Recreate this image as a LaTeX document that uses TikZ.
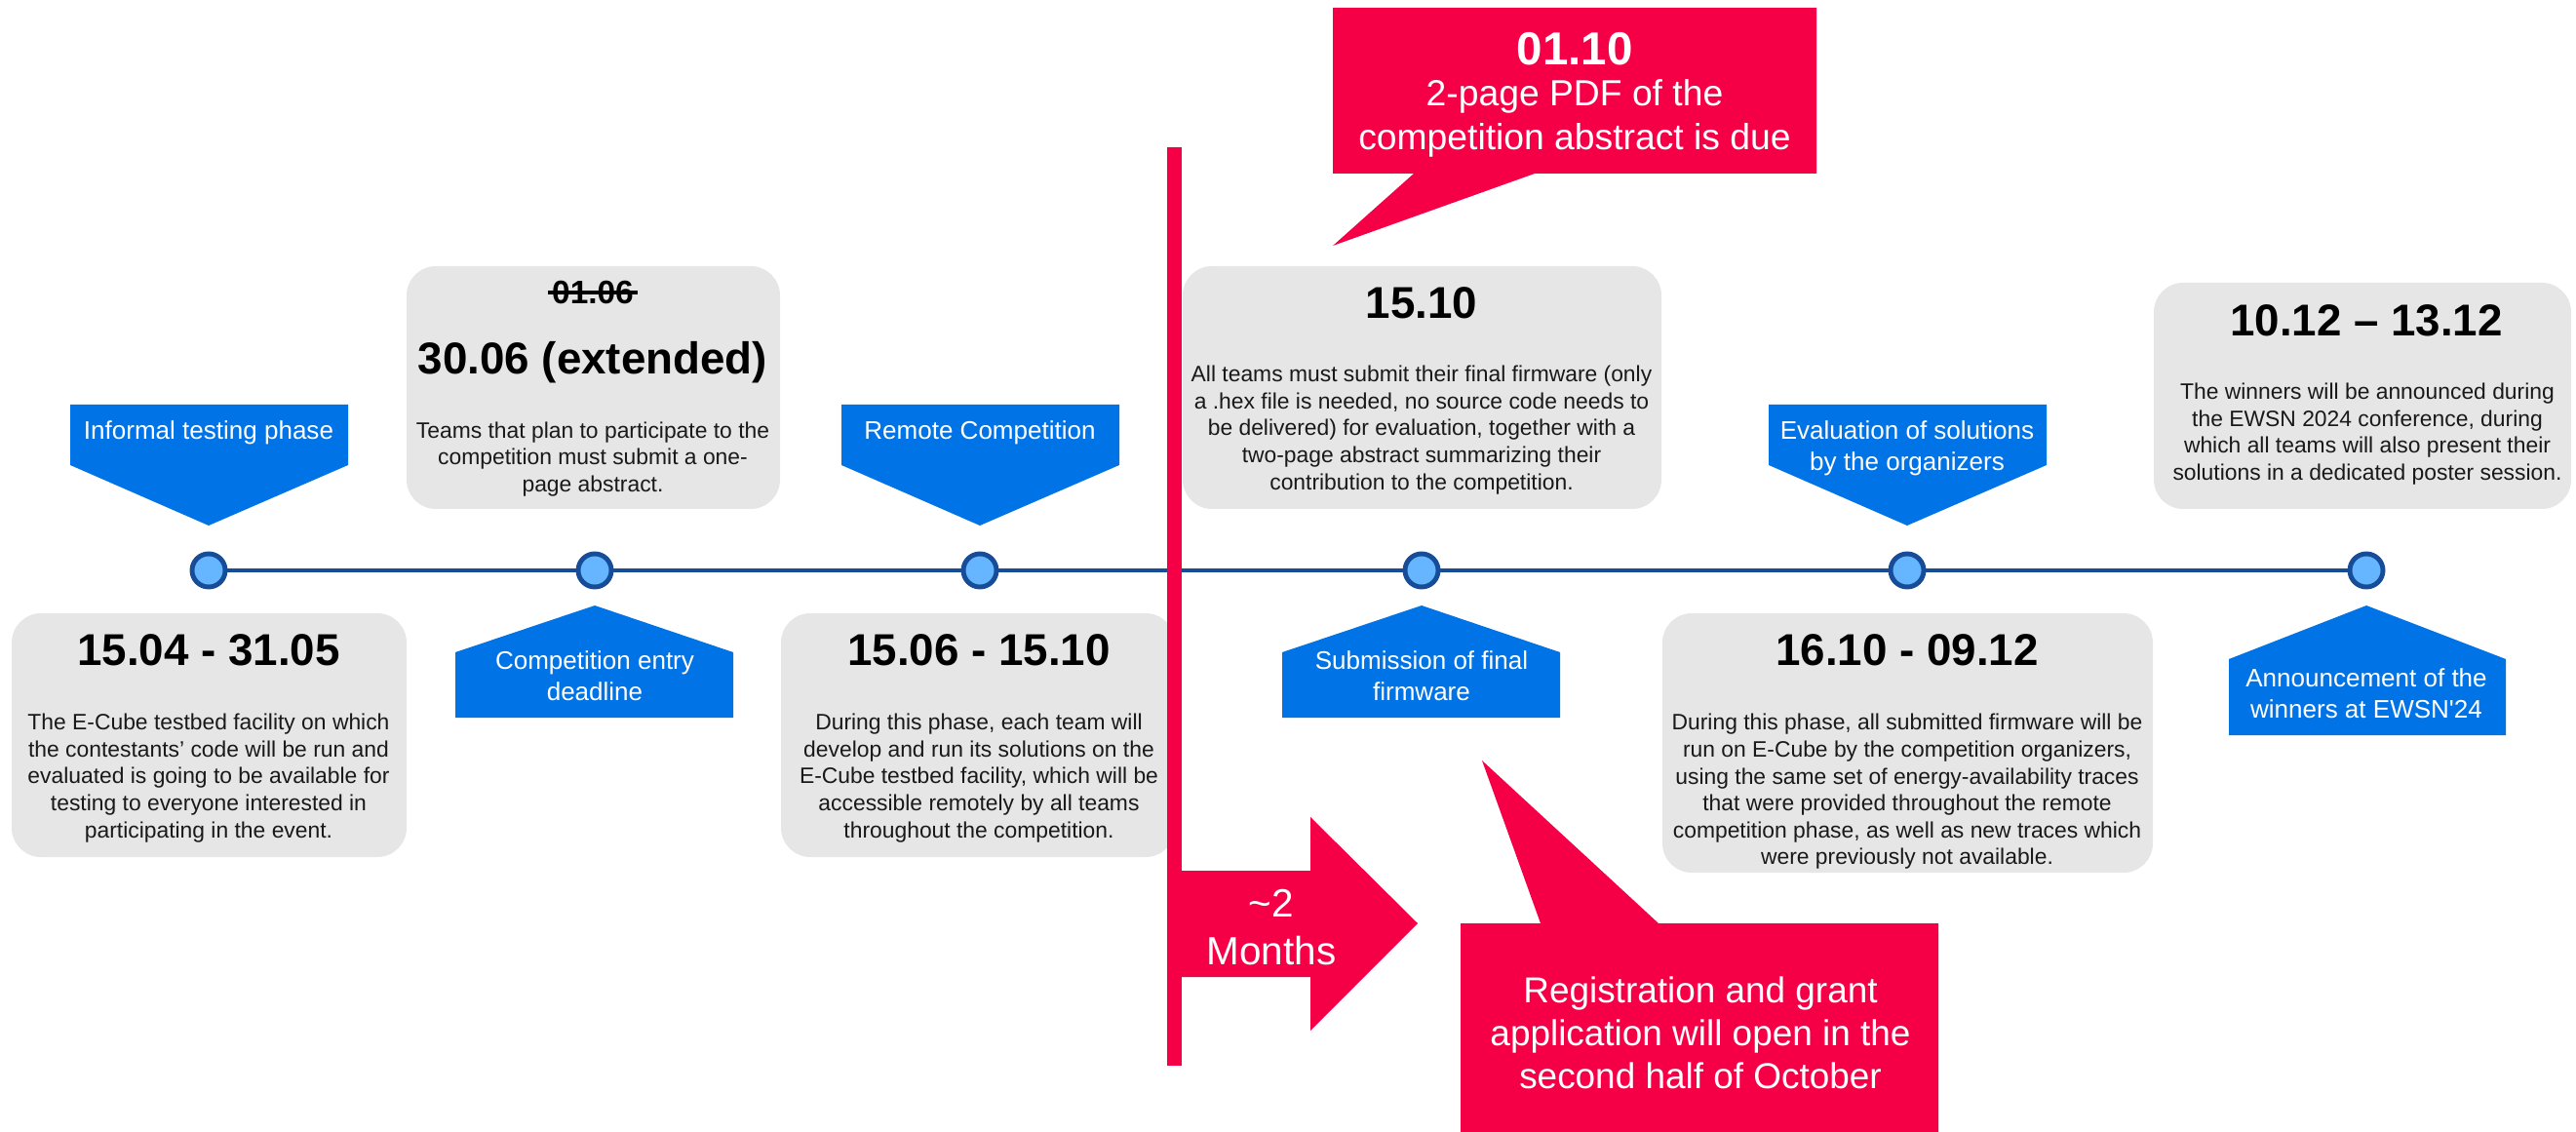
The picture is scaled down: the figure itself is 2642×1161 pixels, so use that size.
\documentclass[tikz,border=0pt]{standalone}
\usepackage{fontspec}
\setmainfont{Liberation Sans}

\definecolor{tlblue}{RGB}{0,115,230}
\definecolor{tlline}{RGB}{22,76,152}
\definecolor{dotfill}{RGB}{102,182,255}
\definecolor{boxgray}{RGB}{230,230,230}
\definecolor{alertred}{RGB}{245,0,70}

\tikzset{
  graybox/.style={fill=boxgray, rounded corners=0.3cm},
  milestone/.style={fill=tlblue},
  alertshape/.style={fill=alertred},
  dot/.style={circle, draw=tlline, fill=dotfill, line width=1.4pt, minimum size=0.34cm, inner sep=0pt},
  timeline/.style={draw=tlline, line width=1.1pt},
  datetitle/.style={font=\fontsize{13}{15}\selectfont\bfseries, inner sep=0pt},
  bodytext/.style={font=\fontsize{6.5}{7.85}\selectfont, align=center, inner sep=0pt, text=black!90},
  bluelabel/.style={font=\fontsize{7.4}{9.1}\selectfont, align=center, inner sep=0pt, text=white},
  alerttext/.style={font=\fontsize{10.6}{12.8}\selectfont, align=center, inner sep=0pt, text=white},
}

\begin{document}
\begin{tikzpicture}[x=0.01cm, y=-0.01cm]
    \useasboundingbox (0,0) rectangle (2642,1161);

    %% Grey info boxes
    \fill[graybox] (12,629) rectangle (417,879);
    \fill[graybox] (417,273) rectangle (800,522);
    \fill[graybox] (801,629) rectangle (1205,879);
    \fill[graybox] (1213,273) rectangle (1704,522);
    \fill[graybox] (1705,629) rectangle (2208,895);
    \fill[graybox] (2209,290) rectangle (2637,522);

    %% Timeline with milestones
    \node[dot] (m1) at (214,585) {};
    \node[dot] (m2) at (610,585) {};
    \node[dot] (m3) at (1005,585) {};
    \node[dot] (m4) at (1458,585) {};
    \node[dot] (m5) at (1956,585) {};
    \node[dot] (m6) at (2427,585) {};
    \draw[timeline] (m1) -- (m2);
    \draw[timeline] (m2) -- (m3);
    \draw[timeline] (m3) -- (m4);
    \draw[timeline] (m4) -- (m5);
    \draw[timeline] (m5) -- (m6);

    % Labels above the line
    \fill[milestone] (72,415) -- (357,415) -- (357,477) -- (214,539) -- (72,477) -- cycle;
    \fill[milestone] (863,415) -- (1148,415) -- (1148,477) -- (1005,539) -- (863,477) -- cycle;
    \fill[milestone] (1814,415) -- (2099,415) -- (2099,477) -- (1956,539) -- (1814,477) -- cycle;

    % Labels below the line
    \fill[milestone] (610,621) -- (752,669) -- (752,736) -- (467,736) -- (467,669) -- cycle;
    \fill[milestone] (1458,621) -- (1600,669) -- (1600,736) -- (1315,736) -- (1315,669) -- cycle;
    \fill[milestone] (2427,621) -- (2570,676) -- (2570,754) -- (2286,754) -- (2286,676) -- cycle;

    \node[bluelabel] (l1) at (214,444) {Informal testing phase};
    \node[bluelabel] (l2) at (610,693) {Competition entry\\deadline};
    \node[bluelabel] (l3) at (1005,444) {Remote Competition};
    \node[bluelabel] (l4) at (1458,693) {Submission of final\\firmware};
    \node[bluelabel] (l5) at (1956,460) {Evaluation of solutions\\by the organizers};
    \node[bluelabel] (l6) at (2427,711) {Announcement of the\\winners at EWSN\textquotesingle24};

    %% Dates and descriptions
    \node[datetitle] (d1) at (214,667) {15.04 - 31.05};
    \node[bodytext] (t1) at (214,798) {The E-Cube testbed facility on which\\the contestants’ code will be run and\\evaluated is going to be available for\\testing to everyone interested in\\participating in the event.};

    \node[datetitle, font=\fontsize{9.5}{11}\selectfont\bfseries] (d2old) at (608,300) {01.06};
    \draw[line width=0.9pt] ([xshift=-1pt]d2old.west) -- ([xshift=1pt]d2old.east);
    \node[datetitle] (d2) at (608,372) {30.06 (extended)};
    \node[bodytext] (t2) at (608,471) {Teams that plan to participate to the\\competition must submit a one-\\page abstract.};

    \node[datetitle] (d3) at (1004,667) {15.06 - 15.10};
    \node[bodytext] (t3) at (1004,798) {During this phase, each team will\\develop and run its solutions on the\\E-Cube testbed facility, which will be\\accessible remotely by all teams\\throughout the competition.};

    \node[datetitle] (d4) at (1458,311) {15.10};
    \node[bodytext] (t4) at (1458,441) {All teams must submit their final firmware (only\\a .hex file is needed, no source code needs to\\be delivered) for evaluation, together with a\\two-page abstract summarizing their\\contribution to the competition.};

    \node[datetitle] (d5) at (1956,667) {16.10 - 09.12};
    \node[bodytext] (t5) at (1956,812) {During this phase, all submitted firmware will be\\run on E-Cube by the competition organizers,\\using the same set of energy-availability traces\\that were provided throughout the remote\\competition phase, as well as new traces which\\were previously not available.};

    \node[datetitle] (d6) at (2427,329) {10.12 – 13.12};
    \node[bodytext] (t6) at (2428,445) {The winners will be announced during\\the EWSN 2024 conference, during\\which all teams will also present their\\solutions in a dedicated poster session.};

    %% Red marks
    % Divider and ~2 months arrow
    \draw[alertred, line width=4.3pt] (1204.5,151) -- (1204.5,1093);
    \fill[alertshape] (1204,893) -- (1344,893) -- (1344,838) -- (1454,947) -- (1344,1057) -- (1344,1002) -- (1204,1002) -- cycle;
    \node[alerttext, font=\fontsize{11.5}{13.7}\selectfont] (gap) at (1304,951) {\textasciitilde 2\\Months};

    % Abstract callout
    \fill[alertshape] (1367,8) -- (1863,8) -- (1863,178) -- (1574,178) -- (1367,252) -- (1450,178) -- (1367,178) -- cycle;
    \node[alerttext, font=\fontsize{13.5}{15}\selectfont\bfseries] (absdate) at (1615,50) {01.10};
    \node[alerttext] (abstxt) at (1615,121) {2-page PDF of the\\competition abstract is due};

    % Registration callout
    \fill[alertshape] (1498,947) -- (1580,947) -- (1520,780) -- (1701,947) -- (1988,947) -- (1988,1161) -- (1498,1161) -- cycle;
    \node[alerttext, font=\fontsize{10.5}{12.5}\selectfont] (reg) at (1744,1059) {Registration and grant\\application will open in the\\second half of October};

\end{tikzpicture}
\end{document}
